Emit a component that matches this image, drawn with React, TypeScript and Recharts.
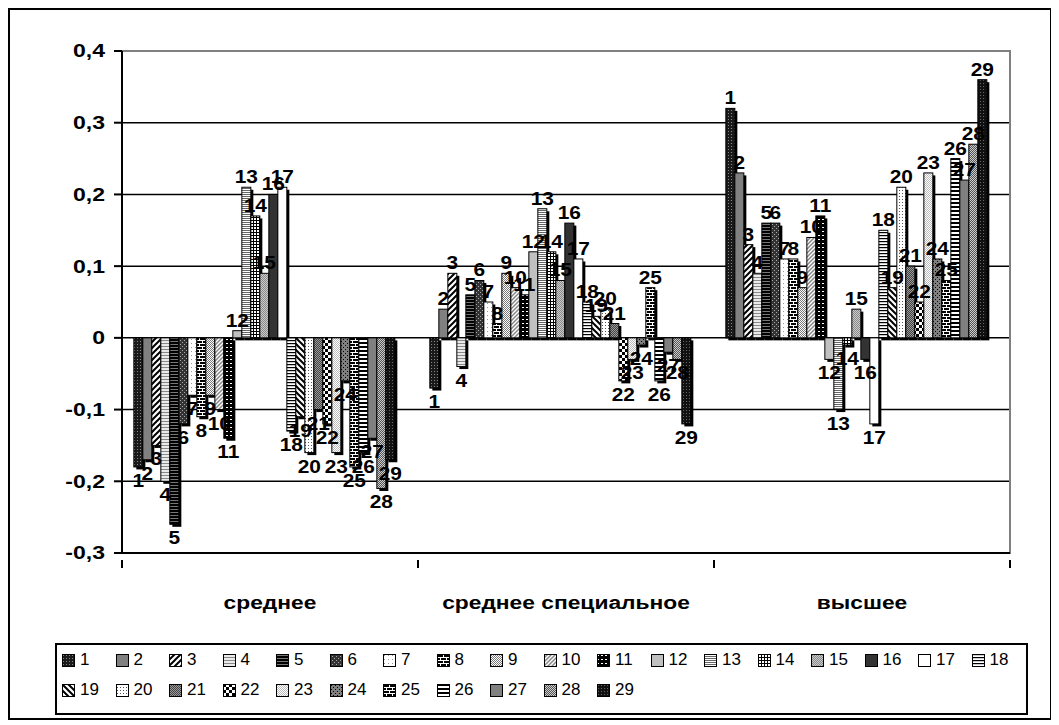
import React from 'react';
import { BarChart, Bar, XAxis, YAxis, CartesianGrid, Legend, LabelList, ReferenceArea } from 'recharts';

const FONT = '"Liberation Sans", Arial, Helvetica, sans-serif';

const categories = ['среднее', 'среднее специальное', 'высшее'];
const seriesNames = ['1', '2', '3', '4', '5', '6', '7', '8', '9', '10', '11', '12', '13', '14', '15', '16', '17', '18', '19', '20', '21', '22', '23', '24', '25', '26', '27', '28', '29'];

const srednee = [-0.18, -0.17, -0.15, -0.2, -0.26, -0.12, -0.08, -0.11, -0.08, -0.1, -0.14, 0.01, 0.21, 0.17, 0.09, 0.2, 0.21, -0.13, -0.11, -0.16, -0.1, -0.12, -0.16, -0.06, -0.18, -0.16, -0.14, -0.21, -0.17];
const srednSpec = [-0.07, 0.04, 0.09, -0.04, 0.06, 0.08, 0.05, 0.02, 0.09, 0.07, 0.06, 0.12, 0.18, 0.12, 0.08, 0.16, 0.11, 0.05, 0.03, 0.04, 0.02, -0.06, -0.03, -0.01, 0.07, -0.06, -0.02, -0.03, -0.12];
const vysshee = [0.32, 0.23, 0.13, 0.09, 0.16, 0.16, 0.11, 0.11, 0.07, 0.14, 0.17, -0.03, -0.1, -0.01, 0.04, -0.03, -0.12, 0.15, 0.07, 0.21, 0.1, 0.05, 0.23, 0.11, 0.08, 0.25, 0.22, 0.27, 0.36];

const yTicks = [-0.3, -0.2, -0.1, 0, 0.1, 0.2, 0.3, 0.4];

const categoryValues = [srednee, srednSpec, vysshee];

const data = categories.map((c, ci) => {
  const row: any = { category: c };
  seriesNames.forEach((s, si) => {
    row['s' + s] = categoryValues[ci][si];
  });
  return row;
});

const CHART_W = 1040;
const CHART_H = 708;
const MARGIN = { top: 41, right: 40, bottom: 105, left: 0 };
const Y_W = 112;
const PLOT_W = CHART_W - MARGIN.left - MARGIN.right - Y_W;
const HALF_BAND = PLOT_W / categories.length / 2;

const pat = (id: string, size: number, bg: string, children?: any) => (
  <pattern id={id} key={id} width={size} height={size} patternUnits="userSpaceOnUse">
    <rect width={size} height={size} fill={bg} />
    {children}
  </pattern>
);

const checker = (id: string, a: string, b: string) =>
  pat(id, 2, a, [<rect key="a" x={0} y={0} width={1} height={1} fill={b} />, <rect key="b" x={1} y={1} width={1} height={1} fill={b} />]);

const brick = (id: string) =>
  pat(id, 6, '#000', [
    <rect key="h1" x={0} y={0} width={6} height={1} fill="#fff" />,
    <rect key="h2" x={0} y={3} width={6} height={1} fill="#fff" />,
    <rect key="v1" x={0} y={0} width={1} height={3} fill="#fff" />,
    <rect key="v2" x={3} y={3} width={1} height={3} fill="#fff" />,
  ]);

const patternDefs = [
  pat('pat1', 3, '#1a1a1a', <rect x={1} y={1} width={1} height={1} fill="#888" />),
  pat('pat2', 4, '#808080'),
  pat('pat3', 6, '#fff', <path d="M0,6 L6,0 M-1.5,1.5 L1.5,-1.5 M4.5,7.5 L7.5,4.5" stroke="#000" strokeWidth={2} />),
  pat('pat4', 3, '#eaeaea', <rect x={0} y={0} width={3} height={1} fill="#888" />),
  pat('pat5', 3, '#000', <rect x={0} y={1} width={3} height={1} fill="#777" />),
  pat('pat6', 4, '#333', [<rect key="a" x={0} y={0} width={1} height={1} fill="#aaa" />, <rect key="b" x={2} y={2} width={1} height={1} fill="#aaa" />]),
  pat('pat7', 4, '#fff', <rect x={1} y={1} width={1} height={1} fill="#999" />),
  brick('pat8'),
  checker('pat9', '#fff', '#777'),
  pat('pat10', 4, '#fff', <path d="M0,4 L4,0 M-1,1 L1,-1 M3,5 L5,3" stroke="#888" strokeWidth={1.5} />),
  pat('pat11', 4, '#000', <rect x={0} y={1} width={2} height={1} fill="#fff" />),
  pat('pat12', 4, '#c0c0c0'),
  pat('pat13', 2, '#fff', <rect x={0} y={0} width={2} height={1} fill="#666" />),
  pat('pat14', 3, '#fff', [<rect key="a" x={0} y={0} width={3} height={1} fill="#000" />, <rect key="b" x={0} y={0} width={1} height={3} fill="#000" />]),
  checker('pat15', '#ccc', '#888'),
  pat('pat16', 4, '#333'),
  pat('pat17', 4, '#fff'),
  pat('pat18', 3, '#fff', <rect x={0} y={0} width={3} height={1.2} fill="#000" />),
  pat('pat19', 6, '#fff', <path d="M0,0 L6,6 M-1.5,4.5 L1.5,7.5 M4.5,-1.5 L7.5,1.5" stroke="#000" strokeWidth={2} />),
  pat('pat20', 3, '#fff', <rect x={1} y={0} width={1} height={1} fill="#555" />),
  checker('pat21', '#444', '#999'),
  pat('pat22', 6, '#fff', [<rect key="a" x={0} y={0} width={3} height={3} fill="#000" />, <rect key="b" x={3} y={3} width={3} height={3} fill="#000" />]),
  checker('pat23', '#fff', '#bbb'),
  pat('pat24', 4, '#808080', [<rect key="a" x={1} y={1} width={1} height={1} fill="#000" />, <rect key="b" x={3} y={3} width={1} height={1} fill="#000" />]),
  brick('pat25'),
  pat('pat26', 4, '#fff', <rect x={0} y={0} width={4} height={2} fill="#000" />),
  pat('pat27', 4, '#808080'),
  checker('pat28', '#555', '#ccc'),
  pat('pat29', 3, '#111', <rect x={1} y={1} width={1} height={1} fill="#666" />),
];

const fmt = (v: number) => (Math.round(v * 10) / 10).toString().replace('.', ',');

const ShadowBar = (props: any) => {
  const { x, y, width, height, fill } = props;
  if (x === undefined || y === undefined) return null;
  const top = Math.min(y, y + height);
  const h = Math.abs(height);
  return (
    <g>
      <rect x={x + 2.5} y={top + 2.5} width={width} height={h} fill="#000" />
      <rect x={x} y={top} width={width} height={h} fill={fill} stroke="#000" strokeWidth={1} />
    </g>
  );
};

const makeLabel = (name: string) => (props: any) => {
  const { x, y, width, height, value } = props;
  if (value === undefined || value === null) return null;
  const top = Math.min(y, y + height);
  const bottom = Math.max(y, y + height);
  const cx = x + width / 2;
  const ty = value >= 0 ? top - 4 : bottom + 20;
  return (
    <text
      transform={`translate(${cx},${ty}) scale(1.1,1)`}
      textAnchor="middle"
      fontFamily={FONT}
      fontWeight="bold"
      fontSize={19}
      fill="#000"
    >
      {name}
    </text>
  );
};

const YTick = (props: any) => {
  const { x, y, payload } = props;
  return (
    <text
      transform={`translate(${x},${y}) scale(1.28,1)`}
      textAnchor="end"
      dy="0.36em"
      fontFamily={FONT}
      fontWeight="bold"
      fontSize={18}
      fill="#000"
    >
      {fmt(payload.value)}
    </text>
  );
};

const CategoryTick = (props: any) => {
  const { x, y, payload, index } = props;
  const isLast = index === categories.length - 1;
  return (
    <g>
      <line x1={x - HALF_BAND} y1={y - 1} x2={x - HALF_BAND} y2={y + 7} stroke="#000" strokeWidth={2} />
      {isLast && <line x1={x + HALF_BAND} y1={y - 1} x2={x + HALF_BAND} y2={y + 7} stroke="#000" strokeWidth={2} />}
      <text
        transform={`translate(${x},${y + 48}) scale(1.2,1)`}
        textAnchor="middle"
        fontFamily={FONT}
        fontWeight="bold"
        fontSize={19}
        fill="#000"
      >
        {payload.value}
      </text>
    </g>
  );
};

const renderLegend = () => (
  <div
    style={{
      width: 973,
      height: 72,
      border: '2px solid #000',
      boxSizing: 'border-box',
      background: '#fff',
      padding: '0 0 0 5px',
      display: 'flex',
      flexWrap: 'wrap',
      alignContent: 'flex-start',
      fontFamily: FONT,
      fontSize: 17,
      color: '#000',
    }}
  >
    {seriesNames.map((n, i) => (
      <div key={n} style={{ width: 53.5, height: 30, display: 'flex', alignItems: 'center' }}>
        <svg width={13} height={13} style={{ marginRight: 5, flex: 'none' }}>
          <rect x={0.5} y={0.5} width={12} height={12} fill={`url(#pat${i + 1})`} stroke="#000" strokeWidth={1} />
        </svg>
        <span>{n}</span>
      </div>
    ))}
  </div>
);

export default function App() {
  return (
    <div
      style={{
        position: 'relative',
        width: 1044,
        height: 712,
        border: '2px solid #000',
        boxSizing: 'border-box',
        background: '#fff',
        fontFamily: FONT,
      }}
    >
      <BarChart
        width={CHART_W}
        height={CHART_H}
        data={data}
        margin={MARGIN}
        barCategoryGap="4%"
        barGap={0}
      >
        <defs>{patternDefs}</defs>
        <ReferenceArea y1={-0.3} y2={0.4} fill="none" stroke="#808080" strokeWidth={2} ifOverflow="visible" />
        <CartesianGrid vertical={false} stroke="#000" strokeWidth={1.5} />
        <XAxis
          dataKey="category"
          height={60}
          axisLine={{ stroke: '#000', strokeWidth: 2 }}
          tickLine={false}
          tick={<CategoryTick />}
          interval={0}
        />
        <YAxis
          width={Y_W}
          domain={[-0.3, 0.4]}
          ticks={yTicks}
          axisLine={{ stroke: '#000', strokeWidth: 2 }}
          tickLine={{ stroke: '#000', strokeWidth: 2 }}
          tickSize={8}
          tickMargin={9}
          tick={<YTick />}
          allowDataOverflow
        />
        <Legend
          content={renderLegend}
          layout="horizontal"
          verticalAlign="middle"
          align="center"
          wrapperStyle={{ position: 'absolute', left: 45, top: 633, right: 'auto', bottom: 'auto', width: 973, height: 72 }}
        />
        {seriesNames.map((s, i) => (
          <Bar
            key={s}
            dataKey={'s' + s}
            name={s}
            fill={`url(#pat${i + 1})`}
            stroke="#000"
            strokeWidth={1}
            shape={<ShadowBar />}
            isAnimationActive={false}
          >
            <LabelList dataKey={'s' + s} content={makeLabel(s)} />
          </Bar>
        ))}
      </BarChart>
    </div>
  );
}
